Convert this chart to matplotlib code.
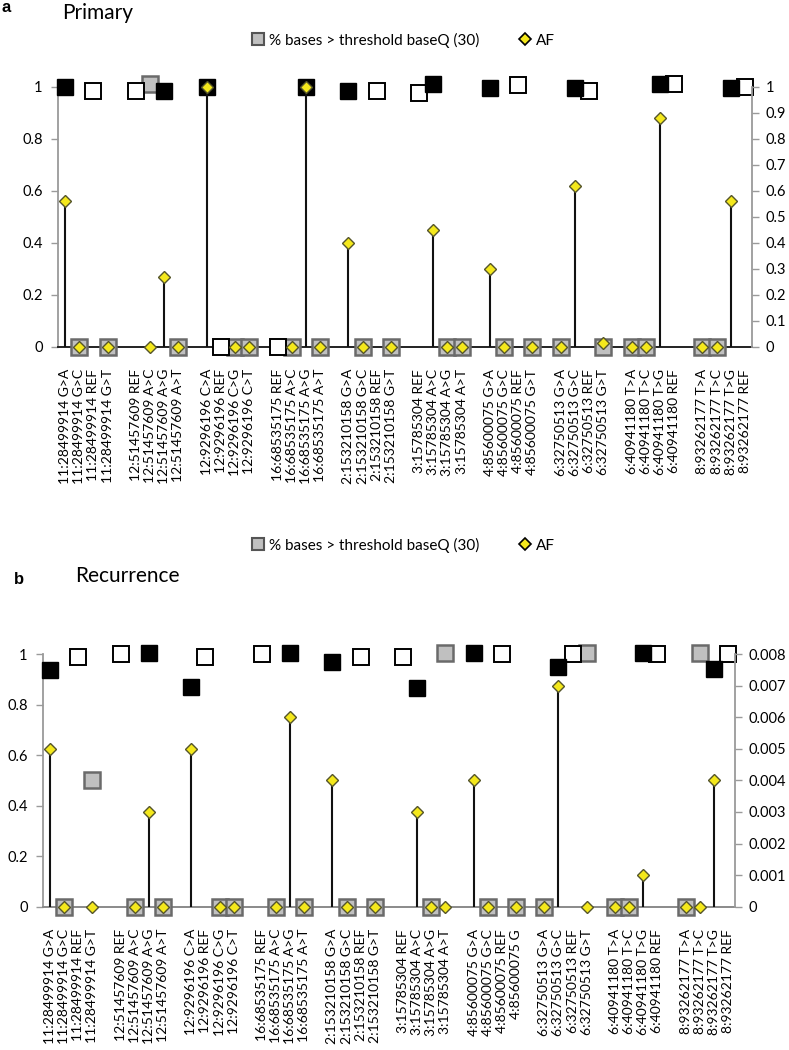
import numpy as np
import matplotlib
matplotlib.use("Agg")
import matplotlib.pyplot as plt
from matplotlib.lines import Line2D
from matplotlib.ticker import FuncFormatter, MultipleLocator

plt.rcParams["font.family"] = ["Lato", "DejaVu Sans"]

nan = np.nan

LOCI = ["11:28499914", "12:51457609", "12:9296196", "16:68535175", "2:153210158",
        "3:15785304", "4:85600075", "6:32750513", "6:40941180", "8:93262177"]
ALLELES_A = [["G>A", "G>C", "REF", "G>T"], ["REF", "A>C", "A>G", "A>T"],
             ["C>A", "REF", "C>G", "C>T"], ["REF", "A>C", "A>G", "A>T"],
             ["G>A", "G>C", "REF", "G>T"], ["REF", "A>C", "A>G", "A>T"],
             ["G>A", "G>C", "REF", "G>T"], ["G>A", "G>C", "REF", "G>T"],
             ["T>A", "T>C", "T>G", "REF"], ["T>A", "T>C", "T>G", "REF"]]
ALLELES_B = [["G>A", "G>C", "REF", "G>T"], ["REF", "A>C", "A>G", "A>T"],
             ["C>A", "REF", "C>G", "C>T"], ["REF", "A>C", "A>G", "A>T"],
             ["G>A", "G>C", "REF", "G>T"], ["REF", "A>C", "A>G", "A>T"],
             ["G>A", "G>C", "REF", "G"], ["G>A", "G>C", "REF", "G>T"],
             ["T>A", "T>C", "T>G", "REF"], ["T>A", "T>C", "T>G", "REF"]]

# call type of each allele: alt (black), ref (white), low (grey)
CALLS = ["alt", "low", "ref", "low", "ref", "low", "alt", "low",
         "alt", "ref", "low", "low", "ref", "low", "alt", "low",
         "alt", "low", "ref", "low", "ref", "alt", "low", "low",
         "alt", "low", "ref", "low", "low", "alt", "ref", "low",
         "low", "low", "alt", "ref", "low", "low", "alt", "ref"]

# % bases > threshold baseQ (30)
PCT_A = [1.0, 0, 0.985, 0, 0.985, 1.01, 0.985, 0, 1.0, 0, 0, 0, 0, 0, 1.0, 0,
         0.985, 0, 0.985, 0, 0.975, 1.01, 0, 0, 0.995, 0, 1.005, 0,
         0, 0.995, 0.985, 0, 0, 0, 1.01, 1.01, 0, 0, 0.995, 1.0]
PCT_B = [0.935, 0, 0.99, 0.5, 1.0, 0, 1.005, 0, 0.87, 0.99, 0, 0, 1.0, 0, 1.005, 0,
         0.97, 0, 0.99, 0, 0.99, 0.865, 0, 1.005, 1.005, 0, 1.0, 0,
         0, 0.95, 1.0, 1.005, 0, 0, 1.005, 1.0, 0, 1.005, 0.94, 1.0]

# allele frequency (right axis)
AF_A = [0.56, 0, nan, 0, nan, 0, 0.27, 0, 1.0, nan, 0, 0, nan, 0, 1.0, 0,
        0.40, 0, nan, 0, nan, 0.45, 0, 0, 0.30, 0, nan, 0,
        0, 0.62, nan, 0.013, 0, 0, 0.88, nan, 0, 0, 0.56, nan]
AF_B = [0.005, 0, nan, 0, nan, 0, 0.003, 0, 0.005, nan, 0, 0, nan, 0, 0.006, 0,
        0.004, 0, nan, 0, nan, 0.003, 0, 0, 0.004, 0, nan, 0,
        0, 0.007, nan, 0, 0, 0, 0.001, nan, 0, 0, 0.004, nan]

SQ_STYLE = {
    "alt": dict(markerfacecolor="black", markeredgecolor="black", markeredgewidth=1.0),
    "ref": dict(markerfacecolor="white", markeredgecolor="black", markeredgewidth=1.4),
    "low": dict(markerfacecolor="#c0c0c0", markeredgecolor="#6a6a6a", markeredgewidth=1.8),
}
YELLOW = "#f4e81c"
DIA_EDGE = "#55552a"
AXIS_GREY = "#9a9a9a"

fmt = FuncFormatter(lambda v, p: f"{v:g}")


def draw_panel(fig, rect, pct, af, alleles, af_max, af_step, base_color):
    labels = [f"{locus} {a}" for locus, al in zip(LOCI, alleles) for a in al]
    xs = np.array([g * 5 + j for g in range(len(LOCI)) for j in range(4)])
    pct = np.array(pct, dtype=float)
    af = np.array(af, dtype=float)
    calls = np.array(CALLS)

    ax = fig.add_axes(rect)
    ax.set_xlim(-0.5, 48.5)
    ax.set_ylim(0, 1)
    for kind in ["low", "ref", "alt"]:
        m = calls == kind
        ax.plot(xs[m], pct[m], ls="none", marker="s", markersize=12,
                clip_on=False, zorder=3, **SQ_STYLE[kind])
    ax.yaxis.set_major_locator(MultipleLocator(0.2))
    ax.yaxis.set_major_formatter(fmt)
    ax.set_xticks(xs)
    ax.set_xticklabels(labels, rotation=90, fontsize=10)
    ax.tick_params(axis="x", length=0, pad=16)
    ax.tick_params(axis="y", direction="out", length=5, width=1, color=AXIS_GREY,
                   labelsize=10.5, pad=6)
    for s in ["top", "right"]:
        ax.spines[s].set_visible(False)
    ax.spines["left"].set_color(AXIS_GREY)
    ax.spines["left"].set_linewidth(1.3)
    ax.spines["bottom"].set_color(base_color)
    ax.spines["bottom"].set_linewidth(1.4)

    ax2 = ax.twinx()
    ax2.set_ylim(0, af_max)
    ok = ~np.isnan(af)
    nz = ok & (af > 0)
    ax2.vlines(xs[nz], 0, af[nz], color="#111111", linewidth=1.5, zorder=2)
    ax2.plot(xs[ok], af[ok], ls="none", marker="D", markersize=6.5,
             markerfacecolor=YELLOW, markeredgecolor=DIA_EDGE, markeredgewidth=1.0,
             clip_on=False, zorder=4)
    ax2.yaxis.set_major_locator(MultipleLocator(af_step))
    ax2.yaxis.set_major_formatter(fmt)
    ax2.tick_params(axis="y", direction="out", length=5, width=1, color=AXIS_GREY,
                    labelsize=10.5, pad=5)
    for s in ["top", "left", "bottom"]:
        ax2.spines[s].set_visible(False)
    ax2.spines["right"].set_color(AXIS_GREY)
    ax2.spines["right"].set_linewidth(1.3)
    return ax, ax2


def add_legend(fig, y):
    handles = [
        Line2D([], [], ls="none", marker="s", markersize=8, markerfacecolor="#c0c0c0",
               markeredgecolor="#555555", markeredgewidth=1.5,
               label="% bases > threshold baseQ (30)"),
        Line2D([], [], ls="none", marker="D", markersize=6, markerfacecolor=YELLOW,
               markeredgecolor="black", markeredgewidth=1.2, label="AF"),
    ]
    fig.legend(handles=handles, loc="center", bbox_to_anchor=(0.511, y), ncol=2,
               frameon=False, fontsize=11, handlelength=0.8, handletextpad=0.3,
               columnspacing=2.6)


fig = plt.figure(figsize=(7.89, 10.5), dpi=100)

draw_panel(fig, [0.0735, 0.6698, 0.8796, 0.2476], PCT_A, AF_A, ALLELES_A,
           1.0, 0.1, "#222222")
draw_panel(fig, [0.0545, 0.1365, 0.877, 0.2406], PCT_B, AF_B, ALLELES_B,
           0.008, 0.001, "#8a8a8a")

add_legend(fig, 1 - 40 / 1050)
add_legend(fig, 1 - 545 / 1050)

fig.text(0.002, 1 - 8 / 1050, "a", fontsize=12, fontweight="bold",
         family=["Liberation Sans", "DejaVu Sans"], va="center")
fig.text(62 / 789, 1 - 13 / 1050, "Primary", fontsize=15, va="center")
fig.text(14 / 789, 1 - 580 / 1050, "b", fontsize=12, fontweight="bold",
         family=["Liberation Sans", "DejaVu Sans"], va="center")
fig.text(75 / 789, 1 - 576 / 1050, "Recurrence", fontsize=15, va="center")

fig.savefig("out.png", dpi=100)
